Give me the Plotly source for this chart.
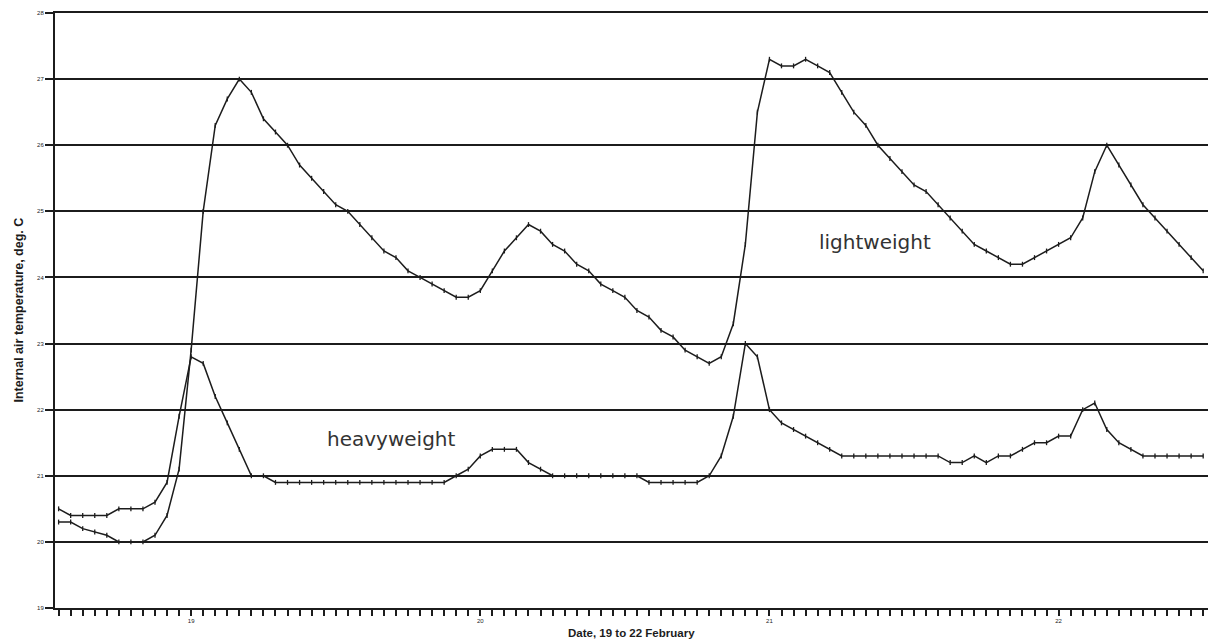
import plotly.graph_objects as go

# Hours since 19 Feb 00:00 (hourly readings)
hours = list(range(1, 97))

lightweight = [
    20.3, 20.3, 20.2, 20.15, 20.1, 20.0, 20.0, 20.0, 20.1, 20.4,
    21.1, 22.9, 25.0, 26.3, 26.7, 27.0, 26.8, 26.4, 26.2, 26.0,
    25.7, 25.5, 25.3, 25.1, 25.0, 24.8, 24.6, 24.4, 24.3, 24.1,
    24.0, 23.9, 23.8, 23.7, 23.7, 23.8, 24.1, 24.4, 24.6, 24.8,
    24.7, 24.5, 24.4, 24.2, 24.1, 23.9, 23.8, 23.7, 23.5, 23.4,
    23.2, 23.1, 22.9, 22.8, 22.7, 22.8, 23.3, 24.5, 26.5, 27.3,
    27.2, 27.2, 27.3, 27.2, 27.1, 26.8, 26.5, 26.3, 26.0, 25.8,
    25.6, 25.4, 25.3, 25.1, 24.9, 24.7, 24.5, 24.4, 24.3, 24.2,
    24.2, 24.3, 24.4, 24.5, 24.6, 24.9, 25.6, 26.0, 25.7, 25.4,
    25.1, 24.9, 24.7, 24.5, 24.3, 24.1,
]

heavyweight = [
    20.5, 20.4, 20.4, 20.4, 20.4, 20.5, 20.5, 20.5, 20.6, 20.9,
    21.9, 22.8, 22.7, 22.2, 21.8, 21.4, 21.0, 21.0, 20.9, 20.9,
    20.9, 20.9, 20.9, 20.9, 20.9, 20.9, 20.9, 20.9, 20.9, 20.9,
    20.9, 20.9, 20.9, 21.0, 21.1, 21.3, 21.4, 21.4, 21.4, 21.2,
    21.1, 21.0, 21.0, 21.0, 21.0, 21.0, 21.0, 21.0, 21.0, 20.9,
    20.9, 20.9, 20.9, 20.9, 21.0, 21.3, 21.9, 23.0, 22.8, 22.0,
    21.8, 21.7, 21.6, 21.5, 21.4, 21.3, 21.3, 21.3, 21.3, 21.3,
    21.3, 21.3, 21.3, 21.3, 21.2, 21.2, 21.3, 21.2, 21.3, 21.3,
    21.4, 21.5, 21.5, 21.6, 21.6, 22.0, 22.1, 21.7, 21.5, 21.4,
    21.3, 21.3, 21.3, 21.3, 21.3, 21.3,
]

day_tick_hours = [12, 36, 60, 84]
day_tick_labels = ["19", "20", "21", "22"]

y_ticks = [19, 20, 21, 22, 23, 24, 25, 26, 27, 28]
y_tick_labels = [str(v) for v in y_ticks]

INK = "#1c1c1c"

x_ticktext = []
for h in hours:
    if h in day_tick_hours:
        x_ticktext.append(day_tick_labels[day_tick_hours.index(h)])
    else:
        x_ticktext.append("")

fig = go.Figure()
for name, vals in [("lightweight", lightweight), ("heavyweight", heavyweight)]:
    fig.add_trace(go.Scatter(
        x=hours, y=vals, name=name, mode="lines+markers",
        line=dict(color=INK, width=1.5),
        marker=dict(symbol="line-ns-open", size=3.5, color=INK,
                    line=dict(color=INK, width=1.3)),
        showlegend=False,
    ))

fig.update_layout(
    width=1208, height=641,
    margin=dict(l=55, r=0, t=13, b=33),
    paper_bgcolor="white", plot_bgcolor="white",
    font=dict(family="Liberation Sans, Arial, sans-serif", color=INK),
    xaxis=dict(
        range=[0.7, 96.4],
        tickmode="array", tickvals=hours, ticktext=x_ticktext,
        ticks="outside", ticklen=6, tickwidth=1.5, tickcolor=INK,
        tickfont=dict(size=6, color=INK),
        showline=True, linecolor=INK, linewidth=2, mirror=True,
        showgrid=False, zeroline=False,
    ),
    yaxis=dict(
        range=[19, 28],
        tickmode="array", tickvals=y_ticks, ticktext=y_tick_labels,
        ticks="outside", ticklen=8, tickwidth=2, tickcolor=INK,
        tickfont=dict(size=6, color=INK),
        showline=True, linecolor=INK, linewidth=2,
        showgrid=True, gridcolor=INK, gridwidth=2,
        zeroline=False,
    ),
    annotations=[
        dict(text="lightweight", x=68.8, y=24.54, xref="x", yref="y",
             showarrow=False, xanchor="center", yanchor="middle",
             font=dict(family="DejaVu Sans", size=20, color="#333333")),
        dict(text="heavyweight", x=28.6, y=21.56, xref="x", yref="y",
             showarrow=False, xanchor="center", yanchor="middle",
             font=dict(family="DejaVu Sans", size=20, color="#333333")),
        dict(text="<b>Date, 19 to 22 February</b>", x=0.5, y=0,
             xref="paper", yref="paper", xanchor="center", yanchor="top",
             yshift=-17, showarrow=False,
             font=dict(family="Liberation Sans", size=11.5, color=INK)),
        dict(text="<b>Internal air temperature, deg. C</b>", x=0, y=0.5,
             xref="paper", yref="paper", xanchor="center", yanchor="middle",
             xshift=-37, textangle=-90, showarrow=False,
             font=dict(family="Liberation Sans", size=12.5, color=INK)),
    ],
)

fig.write_html("out.html")
